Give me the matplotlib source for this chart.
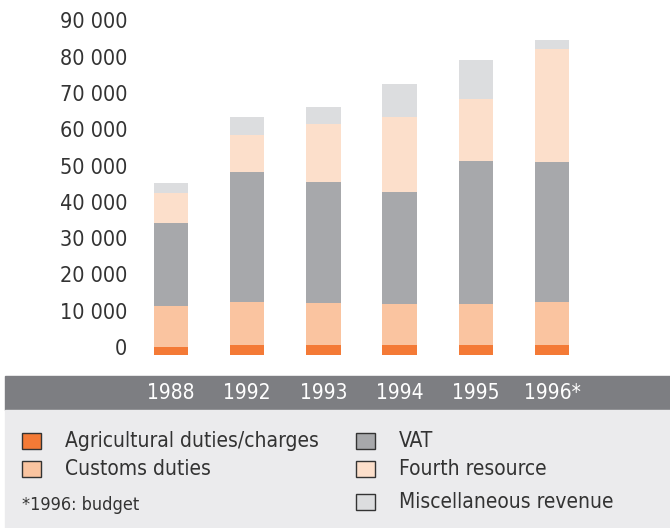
import matplotlib.pyplot as plt
from matplotlib.patches import Rectangle
from matplotlib.transforms import blended_transform_factory

plt.rcParams['font.family'] = ['DejaVu Sans']
plt.rcParams['font.stretch'] = 'condensed'

# Données (millions d'écus, lecture approximative)
years = ["1988", "1992", "1993", "1994", "1995", "1996*"]
agricultural = [2300, 2650, 2650, 2650, 2650, 2650]
customs = [11300, 11850, 11650, 11400, 11400, 11850]
vat = [22800, 35800, 33400, 30950, 39300, 38650]
fourth = [8100, 10200, 16000, 20550, 17150, 31150]
misc = [2950, 4950, 4600, 9000, 10750, 2500]

series = [agricultural, customs, vat, fourth, misc]
names = ["Agricultural duties/charges", "Customs duties", "VAT",
         "Fourth resource", "Miscellaneous revenue"]
colors = ["#f47a36", "#fac4a0", "#a7a8ab", "#fcdfcb", "#dcdddf"]
yticks = list(range(0, 90001, 10000))

W, H = 670, 528
fig = plt.figure(figsize=(W / 100, H / 100), dpi=100)

# axes placed in pixel units
left_px, right_px = 140, 620
zero_px, top_px = 355, 10.15
ax = fig.add_axes([left_px / W, (H - zero_px) / H,
                   (right_px - left_px) / W, (zero_px - top_px) / H])
ax.set_zorder(2)

x = list(range(len(years)))
bottom = [0] * len(years)
for vals, c in zip(series, colors):
    ax.bar(x, vals, bottom=bottom, width=0.45, color=c, edgecolor='none')
    bottom = [b + v for b, v in zip(bottom, vals)]

step = 76.2
ax.set_xlim((left_px - 171) / step, (right_px - 171) / step)
ax.set_ylim(0, 95000)
ax.set_xticks([])
ax.set_yticks(yticks)
ax.set_yticklabels([f"{t:,}".replace(",", " ") for t in yticks])
ax.tick_params(axis='y', length=0, pad=9, labelsize=15.5, labelcolor='#333333')
for lab in ax.get_yticklabels():
    lab.set_verticalalignment('baseline')
for s in ax.spines.values():
    s.set_visible(False)

# gray band with years, light legend area
fig.patches.append(Rectangle((5 / W, (H - 410) / H), 1, 34 / H,
                             transform=fig.transFigure, color='#7d7e82', zorder=0))
fig.patches.append(Rectangle((5 / W, 0), 1, (H - 410) / H,
                             transform=fig.transFigure, color='#ebebed', zorder=0))
trans = blended_transform_factory(ax.transData, fig.transFigure)
for i, y in enumerate(years):
    fig.text(i, (H - 393) / H, y, transform=trans, ha='center', va='center',
             fontsize=15, color='white', zorder=5)

# legend
leg_pos = [(22, 441), (22, 469), (356, 441), (356, 469), (356, 502)]
for (lx, ly), name, c in zip(leg_pos, names, colors):
    fig.patches.append(Rectangle((lx / W, (H - ly - 8) / H), 19 / W, 16 / H,
                                 transform=fig.transFigure, facecolor=c,
                                 edgecolor='#333333', linewidth=1, zorder=3))
    fig.text((lx + 43) / W, (H - ly) / H, name, ha='left', va='center',
             fontsize=15, color='#333333')
fig.text(22 / W, (H - 505) / H, "*1996: budget", ha='left', va='center',
         fontsize=13, color='#333333')

fig.savefig("out.png", dpi=100)
